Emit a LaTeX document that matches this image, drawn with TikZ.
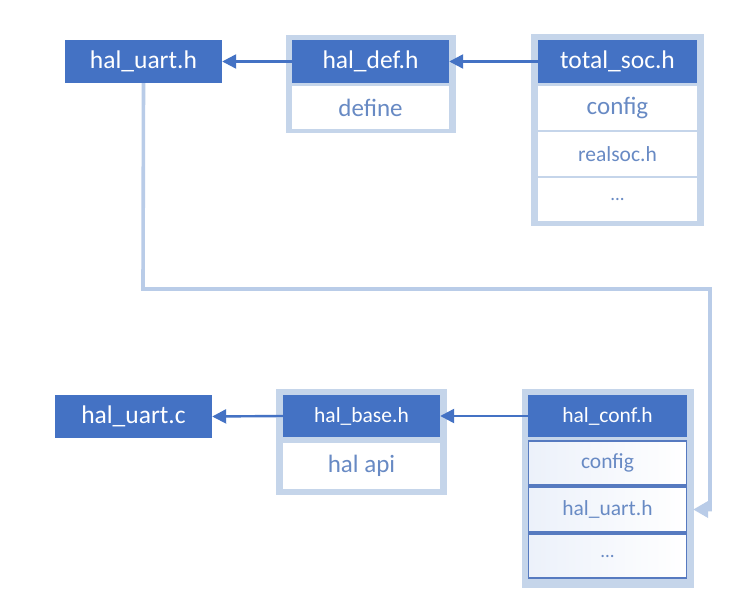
\documentclass[tikz,border=0pt]{standalone}
\usepackage{fontspec}
\setmainfont{Carlito}
\usetikzlibrary{arrows.meta}
\definecolor{hblue}{HTML}{4472C4}
\definecolor{frm}{HTML}{C5D5EA}
\definecolor{con}{HTML}{B9CCE8}
\definecolor{subtxt}{RGB}{104,138,196}
\definecolor{subedge}{RGB}{86,122,192}
\definecolor{tint}{RGB}{236,241,250}
\begin{document}
\begin{tikzpicture}[x=1pt,y=-1pt,
  hbox/.style={fill=hblue, text=white, inner sep=0pt, anchor=center, font=\fontsize{25.5}{30}\selectfont},
  hsmall/.style={hbox, font=\fontsize{21.5}{26}\selectfont},
  subbox/.style={fill=white, text=subtxt, inner sep=0pt, anchor=center, font=\fontsize{25}{30}\selectfont},
  subsmall/.style={subbox, font=\fontsize{21.5}{26}\selectfont},
  subframed/.style={subsmall, draw=subedge, line width=1.3pt, left color=tint, right color=white},
  frame/.style={fill=frm},
  arr/.style={draw=hblue, line width=2.4pt, -{Triangle[length=14pt,width=14pt]}},
  conn/.style={draw=con, line width=3.6pt, -{Triangle[length=15pt,width=16pt]}}
]
\useasboundingbox (0,0) rectangle (751,609);
\fill[white] (0,0) rectangle (751,609);

% top row
\node[hbox, minimum width=157, minimum height=43] (huart) at (143.5,61.5) {hal\_uart.h};

\fill[frame] (286,35) rectangle (456,133);
\node[hbox, minimum width=157, minimum height=43] (hdef) at (370.5,61.5) {hal\_def.h};
\node[subbox, minimum width=157, minimum height=43] (define) at (370.5,107.5) {define};

\fill[frame] (531,34) rectangle (704,226);
\node[hbox, minimum width=159, minimum height=43] (tsoc) at (617.5,61.5) {total\_soc.h};
\node[subbox, minimum width=159, minimum height=44] (tconfig) at (617.5,108) {config};
\node[subsmall, minimum width=159, minimum height=44] (realsoc) at (617.5,154) {realsoc.h};
\node[subsmall, minimum width=159, minimum height=43, font=\fontsize{19}{22}\selectfont] (tdots) at (617.5,199.5) {...};

% bottom row
\node[hbox, minimum width=157, minimum height=43] (huartc) at (133.5,416.5) {hal\_uart.c};

\fill[frame] (276,389) rectangle (447,495);
\node[hsmall, minimum width=157, minimum height=42] (hbase) at (361.5,416) {hal\_base.h};
\node[subbox, minimum width=157, minimum height=46] (halapi) at (361.5,466) {hal api};

\fill[frame] (522,389) rectangle (694,588);
\node[hsmall, minimum width=159, minimum height=42] (hconf) at (607.5,416) {hal\_conf.h};
\node[subframed, minimum width=158, minimum height=44] (cconfig) at (607.5,463) {config};
\node[subframed, minimum width=158, minimum height=45] (cuart) at (607.5,509.5) {hal\_uart.h};
\node[subframed, minimum width=158, minimum height=44, font=\fontsize{19}{22}\selectfont] (cdots) at (607.5,556) {...};

% arrows
\draw[arr] (hdef.west) -- (huart.east);
\draw[arr] (tsoc.west) -- (hdef.east);
\draw[arr] (hbase.west) -- (huartc.east);
\draw[arr] (hconf.west) -- (hbase.east);

\coordinate (c1) at (143,289);
\coordinate (c2) at (710,289);
\coordinate (c3) at (710,509.5);
\draw[conn, shorten >=6pt] (huart.south) -- (c1) -- (c2) -- (c3) -- (cuart.east);
\end{tikzpicture}
\end{document}
